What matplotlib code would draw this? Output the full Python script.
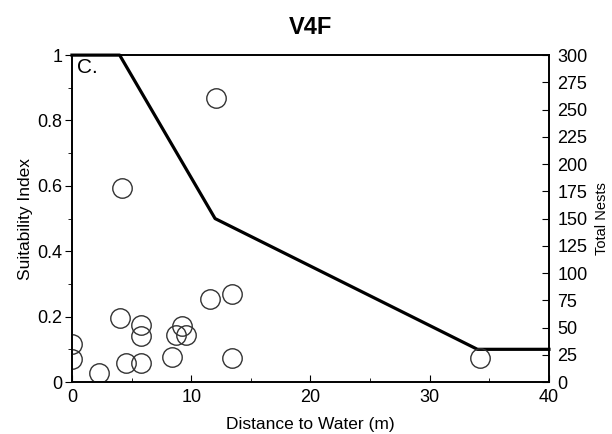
import matplotlib.pyplot as plt
from matplotlib.ticker import MultipleLocator

plt.rcParams['font.family'] = ['Liberation Sans', 'DejaVu Sans']

# suitability index curve
si_dist = [0, 4, 12, 34, 40]
si_value = [1.0, 1.0, 0.5, 0.1, 0.1]

# observed nests
nest_dist = [0, 0, 2.3, 4.0, 4.5, 5.8, 5.8, 5.8, 8.4, 8.7, 9.2, 9.6,
             11.6, 13.4, 13.4, 12.1, 4.2, 34.2]
nest_count = [35, 21, 8, 59, 17, 52, 42, 17, 23, 43, 51, 43,
              76, 81, 22, 261, 178, 22]

fig = plt.figure(figsize=(6.12, 4.34), dpi=100)
ax = fig.add_axes([0.1176, 0.1198, 0.7794, 0.7532])
ax2 = ax.twinx()

ax.plot(si_dist, si_value, color="black", lw=2.3, clip_on=False, zorder=3)
ax2.plot(nest_dist, nest_count, "o", mfc="none", mec="#333333", ms=14, mew=1.0,
         clip_on=True)

ax.set_xlim(0, 40)
ax.set_ylim(0, 1)
ax2.set_ylim(0, 300)

ax.set_xticks([0, 10, 20, 30, 40])
ax.xaxis.set_minor_locator(MultipleLocator(5))
ax.set_yticks([0, 0.2, 0.4, 0.6, 0.8, 1])
ax.set_yticklabels(["0", "0.2", "0.4", "0.6", "0.8", "1"])
ax.yaxis.set_minor_locator(MultipleLocator(0.1))
ax2.set_yticks(range(0, 301, 25))

ax.tick_params(axis="x", direction="in", length=5, labelsize=13, pad=5)
ax.tick_params(axis="x", which="minor", direction="in", length=3)
ax.tick_params(axis="y", direction="out", length=5, labelsize=13, pad=2)
ax.tick_params(axis="y", which="minor", direction="out", length=3)
ax2.tick_params(axis="y", direction="in", length=5, labelsize=13, pad=6)

for a in (ax, ax2):
    for s in a.spines.values():
        s.set_linewidth(1.2)

ax.set_xlabel("Distance to Water (m)", fontsize=12.5, labelpad=8)
ax.set_ylabel("Suitability Index", fontsize=12.5, labelpad=3)
ax2.set_ylabel("Total Nests", fontsize=10.5)
ax2.yaxis.set_label_coords(1.096, 0.5)

ax.text(0.01, 0.99, "C.", transform=ax.transAxes, fontsize=15, va="top", ha="left")
ax.set_title("V4F", fontsize=17, fontweight="bold", pad=15)

fig.savefig("out.png", dpi=100)
